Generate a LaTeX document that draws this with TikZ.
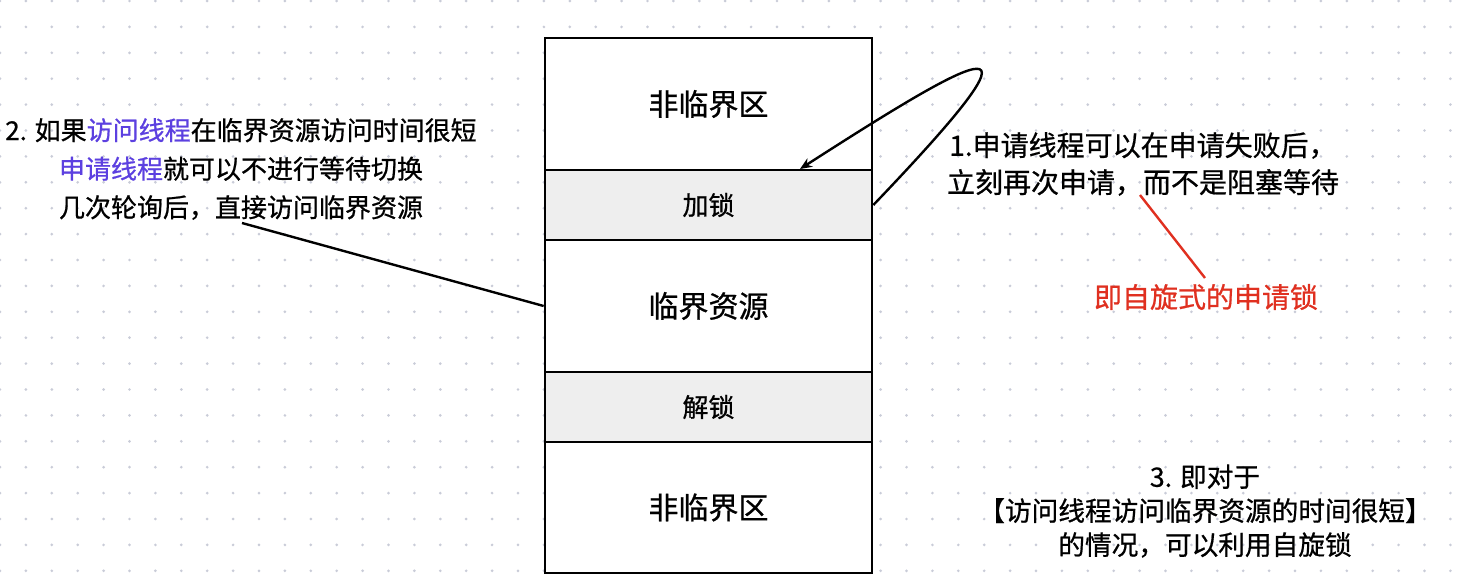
\documentclass[tikz,border=0pt]{standalone}
\usepackage{fontspec}
\setmainfont{Noto Sans CJK SC}[FakeBold=0.7]
\usetikzlibrary{arrows.meta}
\definecolor{dotc}{HTML}{C9CCD8}
\definecolor{lockfill}{HTML}{EEEEEE}
\definecolor{hlblue}{HTML}{5C40E0}
\definecolor{hlred}{HTML}{E03020}
\tikzset{
  rowbox/.style={draw=black, line width=2pt, fill=white, minimum width=245.25pt, inner sep=0pt, anchor=center},
  lockbox/.style={rowbox, fill=lockfill},
  bigtxt/.style={font=\fontsize{22.5}{27}\selectfont},
  smalltxt/.style={font=\fontsize{19.5}{24}\selectfont},
  note/.style={align=center, inner sep=0pt},
  conn/.style={line width=1.8pt, black},
}
\begin{document}
\begin{tikzpicture}[x=0.75pt, y=-0.75pt]
\useasboundingbox (0,0) rectangle (1457,586);
\fill[white] (0,0) rectangle (1457,586);
% dot grid
\foreach \i in {0,...,56} {
  \foreach \j in {0,...,22} {
    \fill[dotc] ({\i*25.9},{1+\j*25.9}) circle (1.1pt);
  }
}
% stack of rows
\node[rowbox, minimum height=99pt, bigtxt] (top) at (708.5,104) {非临界区};
\node[lockbox, minimum height=52.5pt, smalltxt] (lock) at (708.5,205) {加锁};
\node[rowbox, minimum height=99pt, bigtxt] (res) at (708.5,306) {临界资源};
\node[lockbox, minimum height=52.5pt, smalltxt] (unlock) at (708.5,407) {解锁};
\node[rowbox, minimum height=98.25pt, bigtxt] (bot) at (708.5,507.5) {非临界区};

% left note
\node[note, font=\fontsize{19.5}{28.9}\selectfont] (lt) at (241,169)
  {2. 如果\textcolor{hlblue}{访问线程}在临界资源访问时间很短\\
   \textcolor{hlblue}{申请线程}就可以不进行等待切换\\
   几次轮询后，直接访问临界资源};
\coordinate (ltanchor) at (242,223);
\draw[conn] (ltanchor) -- (res.west);

% right note 1
\node[note, font=\fontsize{21}{27.75}\selectfont] (rt) at (1143,164)
  {1.申请线程可以在申请失败后，\\立刻再次申请，而不是阻塞等待};
\node[note, font=\fontsize{21}{25}\selectfont, text=hlred] (red) at (1206,297) {即自旋式的申请锁};
\coordinate (rtanchor) at (1140,195);
\draw[line width=1.8pt, hlred] (rtanchor) -- (1205,278);

% loop arrow
\coordinate (lockin) at (800,169);
\draw[conn, -{Stealth[length=9pt,width=7.5pt]}] (lock.east) .. controls (1060,10) and (985,50) .. (lockin);

% bottom right note
\node[note, font=\fontsize{20}{25.5}\selectfont] (br) at (1205,511)
  {3. 即对于\\【访问线程访问临界资源的时间很短】\\的情况，可以利用自旋锁};
\end{tikzpicture}
\end{document}
